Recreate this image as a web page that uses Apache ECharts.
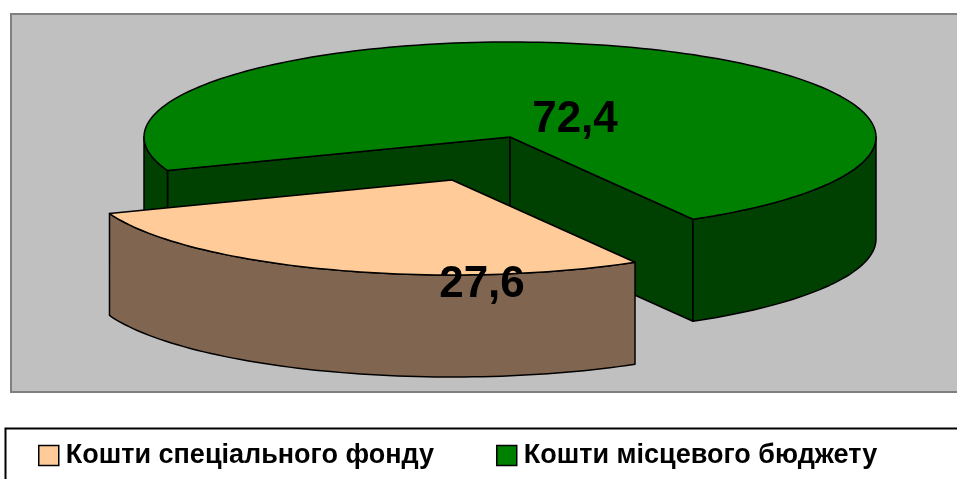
<!DOCTYPE html>
<html>
<head>
<meta charset="utf-8">
<style>html,body{margin:0;padding:0;background:#fff}#main{width:957px;height:479px}</style>
<script src="https://cdn.jsdelivr.net/npm/echarts@6/dist/echarts.min.js"></script>
</head>
<body>
<div id="main"></div>
<script>
var names = ['Кошти спеціального фонду', 'Кошти місцевого бюджету'];
var values = [27.6, 72.4];
var valueLabels = ['27,6', '72,4'];

// цвета: верх и бок сектора
var topColors = ['#FFCC99', '#008000'];
var sideColors = ['#806650', '#004000'];

// геометрия псевдо-3D пирога
var cx = 510, cy = 137, rx = 366, ry = 95, depth = 102;
var startDeg = 60;
var total = values[0] + values[1];
var offsets = [[-58, 43], [0, 0]];   // выдвинутый сектор
var labelPos = [[482, 285], [575, 120]];

function pt(ox, oy, deg, dz) {
    var a = deg * Math.PI / 180;
    return [cx + ox + rx * Math.cos(a), cy + oy + ry * Math.sin(a) + dz];
}

function arc(ox, oy, from, to, dz) {
    var out = [], n = Math.max(2, Math.ceil(Math.abs(to - from) / 1.5));
    for (var i = 0; i <= n; i++) {
        out.push(pt(ox, oy, from + (to - from) * i / n, dz));
    }
    return out;
}

function poly(points, fill) {
    return {
        type: 'polygon',
        shape: { points: points },
        style: { fill: fill, stroke: '#000', lineWidth: 1.5, lineJoin: 'round' }
    };
}

function renderSlice(params, api) {
    var idx = params.seriesIndex;
    var before = idx === 0 ? 0 : values[0];
    var from = startDeg + before / total * 360;
    var to = from + api.value(0) / total * 360;
    var ox = offsets[idx][0], oy = offsets[idx][1];
    var center = [cx + ox, cy + oy];
    var bottom = [cx + ox, cy + oy + depth];
    var children = [];

    // внутренние стенки видны только у большого сектора
    if (idx === 1) {
        children.push(poly([center, pt(ox, oy, from, 0), pt(ox, oy, from, depth), bottom], sideColors[idx]));
        children.push(poly([center, pt(ox, oy, to, 0), pt(ox, oy, to, depth), bottom], sideColors[idx]));
    }

    // внешняя боковая поверхность: только передняя половина эллипса
    [[0, 180], [360, 540]].forEach(function (r) {
        var a = Math.max(from, r[0]), b = Math.min(to, r[1]);
        if (b > a) {
            children.push(poly(arc(ox, oy, a, b, 0).concat(arc(ox, oy, b, a, depth)), sideColors[idx]));
        }
    });

    children.push(poly([center].concat(arc(ox, oy, from, to, 0)), topColors[idx]));

    children.push({
        type: 'text',
        z2: 10,
        style: {
            text: valueLabels[idx],
            x: labelPos[idx][0],
            y: labelPos[idx][1],
            align: 'center',
            verticalAlign: 'middle',
            fill: '#000',
            font: 'bold 44px "Liberation Sans", Arial, sans-serif'
        }
    });

    return { type: 'group', children: children };
}

var chart = echarts.init(document.getElementById('main'), null, { renderer: 'canvas' });

chart.setOption({
    animation: false,
    backgroundColor: '#fff',
    graphic: [{
        type: 'rect',
        z: -1,
        shape: { x: 11, y: 14, width: 960, height: 378 },
        style: { fill: '#C0C0C0', stroke: '#808080', lineWidth: 2 }
    }, {
        type: 'rect',
        z: -1,
        shape: { x: 5.5, y: 428.5, width: 960, height: 60 },
        style: { fill: '#fff', stroke: '#000', lineWidth: 2 }
    }],
    legend: {
        data: names,
        left: 33,
        top: 437,
        padding: 5,
        icon: 'rect',
        itemWidth: 20,
        itemHeight: 20,
        itemGap: 62,
        selectedMode: false,
        itemStyle: { borderColor: '#000', borderWidth: 1.5 },
        textStyle: {
            color: '#000',
            fontFamily: '"Liberation Sans", Arial, sans-serif',
            fontWeight: 'bold',
            fontSize: 27,
            padding: [0, 0, 0, 2]
        }
    },
    series: [{
        type: 'custom',
        name: names[0],
        coordinateSystem: 'none',
        silent: true,
        z: 3,
        itemStyle: { color: topColors[0] },
        renderItem: renderSlice,
        data: [[values[0]]]
    }, {
        type: 'custom',
        name: names[1],
        coordinateSystem: 'none',
        silent: true,
        z: 2,
        itemStyle: { color: topColors[1] },
        renderItem: renderSlice,
        data: [[values[1]]]
    }]
});
</script>
</body>
</html>
